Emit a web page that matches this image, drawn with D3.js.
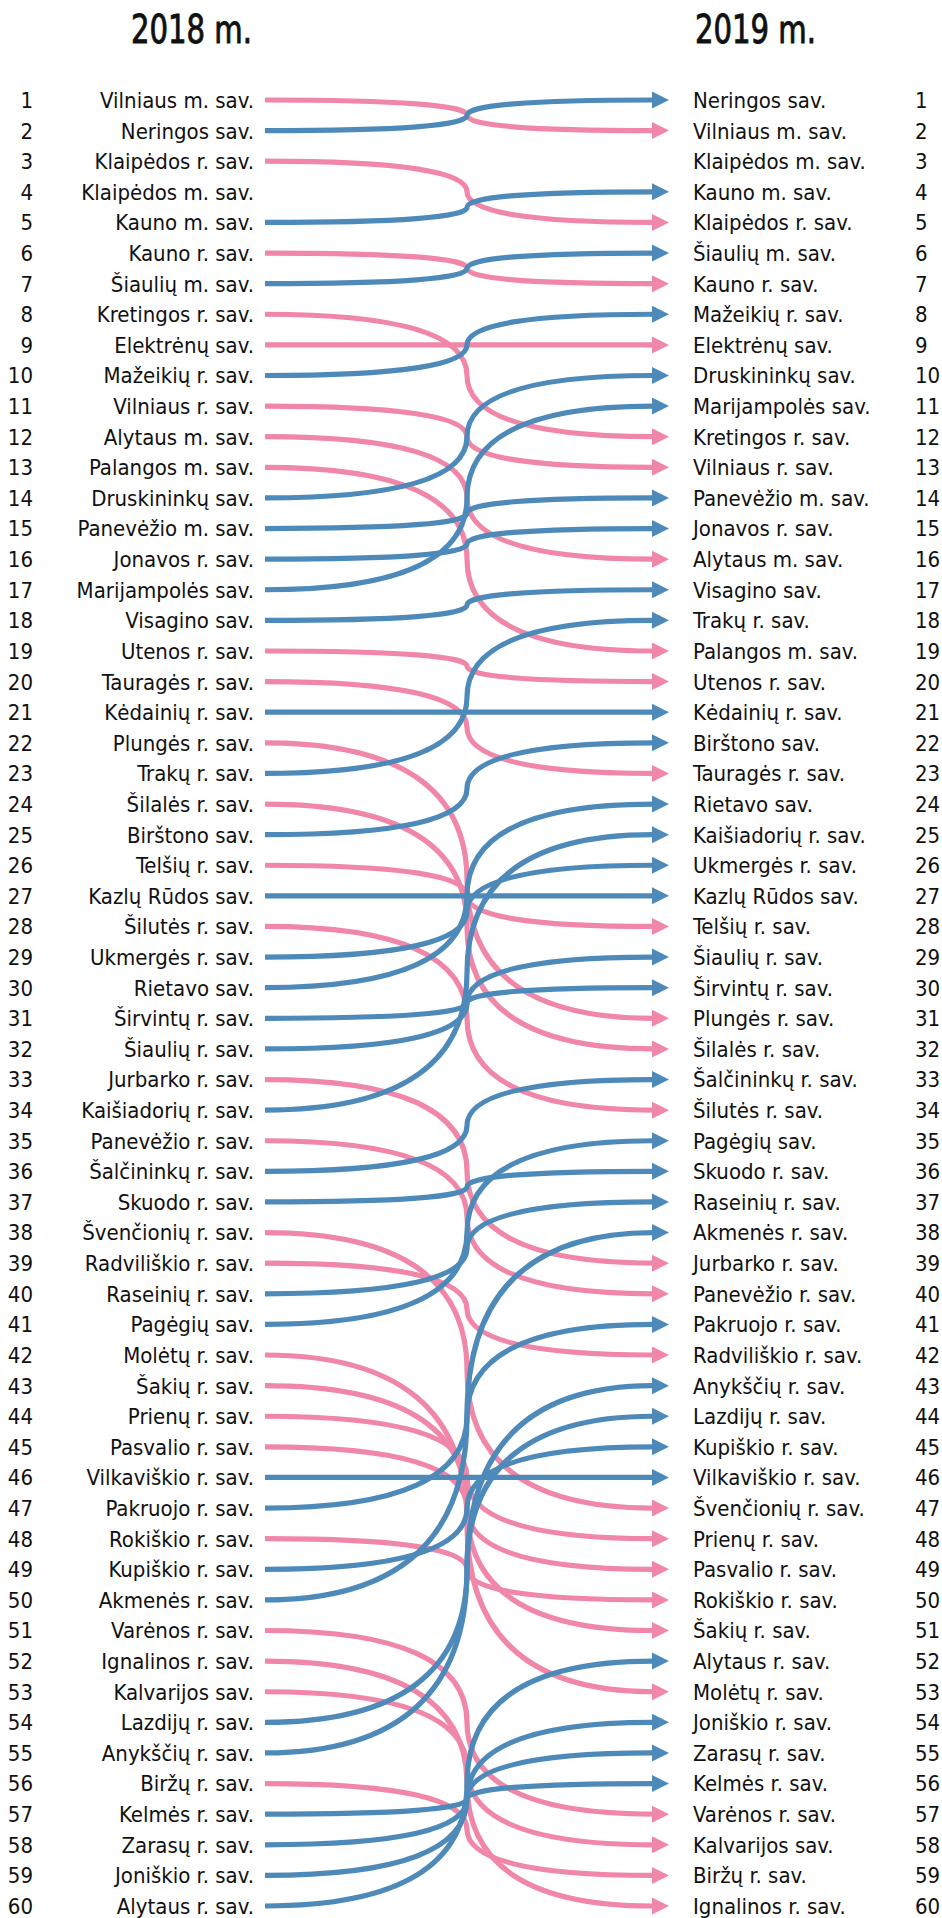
<!DOCTYPE html>
<html>
<head>
<meta charset="utf-8">
<script src="https://cdn.jsdelivr.net/npm/d3@7"></script>
<style>
  html, body { margin: 0; padding: 0; background: #fff; }
  svg { display: block; }
  .lbl { font-family: "DejaVu Sans Condensed", "DejaVu Sans", sans-serif; font-stretch: condensed; font-size: 22px; fill: #111; }
  .hdr { font-family: "DejaVu Sans Condensed", "DejaVu Sans", sans-serif; font-stretch: condensed; font-size: 39px; fill: #111; stroke: #111; stroke-width: 0.9px; }
</style>
</head>
<body>
<script>
const years = ["2018 m.", "2019 m."];

const rank2018 = [
  "Vilniaus m. sav.", "Neringos sav.", "Klaipėdos r. sav.", "Klaipėdos m. sav.", "Kauno m. sav.",
  "Kauno r. sav.", "Šiaulių m. sav.", "Kretingos r. sav.", "Elektrėnų sav.", "Mažeikių r. sav.",
  "Vilniaus r. sav.", "Alytaus m. sav.", "Palangos m. sav.", "Druskininkų sav.", "Panevėžio m. sav.",
  "Jonavos r. sav.", "Marijampolės sav.", "Visagino sav.", "Utenos r. sav.", "Tauragės r. sav.",
  "Kėdainių r. sav.", "Plungės r. sav.", "Trakų r. sav.", "Šilalės r. sav.", "Birštono sav.",
  "Telšių r. sav.", "Kazlų Rūdos sav.", "Šilutės r. sav.", "Ukmergės r. sav.", "Rietavo sav.",
  "Širvintų r. sav.", "Šiaulių r. sav.", "Jurbarko r. sav.", "Kaišiadorių r. sav.", "Panevėžio r. sav.",
  "Šalčininkų r. sav.", "Skuodo r. sav.", "Švenčionių r. sav.", "Radviliškio r. sav.", "Raseinių r. sav.",
  "Pagėgių sav.", "Molėtų r. sav.", "Šakių r. sav.", "Prienų r. sav.", "Pasvalio r. sav.",
  "Vilkaviškio r. sav.", "Pakruojo r. sav.", "Rokiškio r. sav.", "Kupiškio r. sav.", "Akmenės r. sav.",
  "Varėnos r. sav.", "Ignalinos r. sav.", "Kalvarijos sav.", "Lazdijų r. sav.", "Anykščių r. sav.",
  "Biržų r. sav.", "Kelmės r. sav.", "Zarasų r. sav.", "Joniškio r. sav.", "Alytaus r. sav."
];

const rank2019 = [
  "Neringos sav.", "Vilniaus m. sav.", "Klaipėdos m. sav.", "Kauno m. sav.", "Klaipėdos r. sav.",
  "Šiaulių m. sav.", "Kauno r. sav.", "Mažeikių r. sav.", "Elektrėnų sav.", "Druskininkų sav.",
  "Marijampolės sav.", "Kretingos r. sav.", "Vilniaus r. sav.", "Panevėžio m. sav.", "Jonavos r. sav.",
  "Alytaus m. sav.", "Visagino sav.", "Trakų r. sav.", "Palangos m. sav.", "Utenos r. sav.",
  "Kėdainių r. sav.", "Birštono sav.", "Tauragės r. sav.", "Rietavo sav.", "Kaišiadorių r. sav.",
  "Ukmergės r. sav.", "Kazlų Rūdos sav.", "Telšių r. sav.", "Šiaulių r. sav.", "Širvintų r. sav.",
  "Plungės r. sav.", "Šilalės r. sav.", "Šalčininkų r. sav.", "Šilutės r. sav.", "Pagėgių sav.",
  "Skuodo r. sav.", "Raseinių r. sav.", "Akmenės r. sav.", "Jurbarko r. sav.", "Panevėžio r. sav.",
  "Pakruojo r. sav.", "Radviliškio r. sav.", "Anykščių r. sav.", "Lazdijų r. sav.", "Kupiškio r. sav.",
  "Vilkaviškio r. sav.", "Švenčionių r. sav.", "Prienų r. sav.", "Pasvalio r. sav.", "Rokiškio r. sav.",
  "Šakių r. sav.", "Alytaus r. sav.", "Molėtų r. sav.", "Joniškio r. sav.", "Zarasų r. sav.",
  "Kelmės r. sav.", "Varėnos r. sav.", "Kalvarijos sav.", "Biržų r. sav.", "Ignalinos r. sav."
];

// unchanged rank but shown as a decline
const declinedSameRank = ["Elektrėnų sav."];
// municipalities drawn without a connecting line
const withoutLine = ["Klaipėdos m. sav."];

const W = 942, H = 1918;
const PINK = "#f087a9", BLUE = "#4e8ab9";

const svg = d3.select("body").append("svg").attr("width", W).attr("height", H);

const ranks = d3.range(1, rank2018.length + 1);
const y = d3.scaleLinear().domain([1, 60]).range([100, 1906]);

const xLeftNum = 33, xLeftLbl = 254, xLineStart = 265, xTip = 669, xRightLbl = 693, xRightNum = 915;
const headLen = 17, headHalf = 8.5;

// headers
svg.append("text").attr("class", "hdr").attr("x", 131).attr("y", 43)
  .attr("textLength", 121).attr("lengthAdjust", "spacingAndGlyphs").text(years[0]);
svg.append("text").attr("class", "hdr").attr("x", 695).attr("y", 43)
  .attr("textLength", 121).attr("lengthAdjust", "spacingAndGlyphs").text(years[1]);

// left column
svg.append("g").selectAll("text").data(ranks).join("text")
  .attr("class", "lbl").attr("x", xLeftNum).attr("y", d => y(d)).attr("dy", "0.36em")
  .attr("text-anchor", "end").text(d => d);
svg.append("g").selectAll("text").data(rank2018).join("text")
  .attr("class", "lbl").attr("x", xLeftLbl).attr("y", (d, i) => y(i + 1)).attr("dy", "0.36em")
  .attr("text-anchor", "end").text(d => d);

// right column
svg.append("g").selectAll("text").data(rank2019).join("text")
  .attr("class", "lbl").attr("x", xRightLbl).attr("y", (d, i) => y(i + 1)).attr("dy", "0.36em")
  .attr("text-anchor", "start").text(d => d);
svg.append("g").selectAll("text").data(ranks).join("text")
  .attr("class", "lbl").attr("x", xRightNum).attr("y", d => y(d)).attr("dy", "0.36em")
  .attr("text-anchor", "start").text(d => d);

// links
const links = rank2018.map((name, i) => {
  const r0 = i + 1, r1 = rank2019.indexOf(name) + 1;
  let up = r1 <= r0;
  if (declinedSameRank.includes(name)) up = false;
  return { name, r0, r1, color: up ? BLUE : PINK };
}).filter(d => !withoutLine.includes(d.name));

function linkPath(d) {
  const x0 = xLineStart, x1 = xTip - headLen + 1;
  const y0 = y(d.r0), y1 = y(d.r1);
  if (d.r0 === d.r1) return `M${x0},${y0}L${x1},${y1}`;
  const xm = (xLineStart + xTip) / 2, ym = (y0 + y1) / 2;
  return `M${x0},${y0}Q${xm},${y0} ${xm},${ym}Q${xm},${y1} ${x1},${y1}`;
}

const g = svg.append("g");
const lk = g.selectAll("g").data(links).join("g");
lk.append("path").attr("d", linkPath).attr("fill", "none")
  .attr("stroke", d => d.color).attr("stroke-width", 5.2);
lk.append("path")
  .attr("d", d => {
    const yy = y(d.r1);
    return `M${xTip},${yy}L${xTip - headLen},${yy - headHalf}L${xTip - headLen},${yy + headHalf}Z`;
  })
  .attr("fill", d => d.color);
</script>
</body>
</html>
